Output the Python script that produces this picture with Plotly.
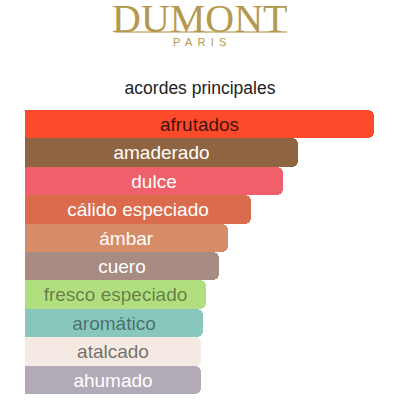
import plotly.graph_objects as go

acordes = ["afrutados", "amaderado", "dulce", "cálido especiado", "ámbar",
           "cuero", "fresco especiado", "aromático", "atalcado", "ahumado"]
valores = [100, 78.2, 73.9, 64.8, 58.2, 55.6, 51.9, 51.0, 50.4, 50.4]
colores = ["#FD4A2A", "#8F6541", "#EF606A", "#DA6B4C", "#D68C67",
           "#A88B83", "#B1DF7F", "#87C7BC", "#F4EAE3", "#B3AAB7"]
colores_texto = ["rgba(0,0,0,0.75)", "white", "white", "white", "white",
                 "white", "rgba(0,0,0,0.45)", "rgba(0,0,0,0.45)",
                 "rgba(0,0,0,0.55)", "white"]

fig = go.Figure(
    go.Bar(
        x=valores,
        y=acordes,
        orientation="h",
        marker=dict(color=colores, line=dict(width=0)),
        text=acordes,
        textposition="inside",
        insidetextanchor="middle",
        textangle=0,
        textfont=dict(family="Liberation Sans, Arial", size=19, color=colores_texto),
        hoverinfo="skip",
    )
)

# logo
fig.add_annotation(text="DUMONT", x=0.5, y=1.325, xref="paper", yref="paper",
                   showarrow=False, yanchor="middle", height=30,
                   font=dict(family="Liberation Serif, Times New Roman", size=40, color="#B5994E"))
fig.add_shape(type="line", xref="paper", yref="paper", x0=0.258, x1=0.751,
              y0=1.275, y1=1.275, line=dict(color="#C9B27A", width=1.5))
fig.add_annotation(text="P\u2009 A\u2009 R\u2009 I\u2009 S", x=0.5, y=1.238,
                   xref="paper", yref="paper", showarrow=False, yanchor="middle",
                   height=10,
                   font=dict(family="Liberation Sans, Arial", size=11, color="#B5994E"))

fig.update_layout(
    width=400,
    height=400,
    margin=dict(l=25, r=26, t=110, b=6),
    paper_bgcolor="white",
    plot_bgcolor="white",
    bargap=0,
    barcornerradius=6,
    showlegend=False,
    title=dict(text="acordes principales", x=0.5, xanchor="center",
               y=0.78, yanchor="middle",
               font=dict(family="Liberation Sans, Arial", size=17.5, color="#222222")),
    xaxis=dict(range=[0, 100], visible=False, fixedrange=True),
    yaxis=dict(autorange="reversed", visible=False, fixedrange=True),
)

# drop the default page margin so the chart sits at the window's corner
fig.write_html("out.html", config={"displayModeBar": False},
               post_script="document.body.style.margin='0';")
